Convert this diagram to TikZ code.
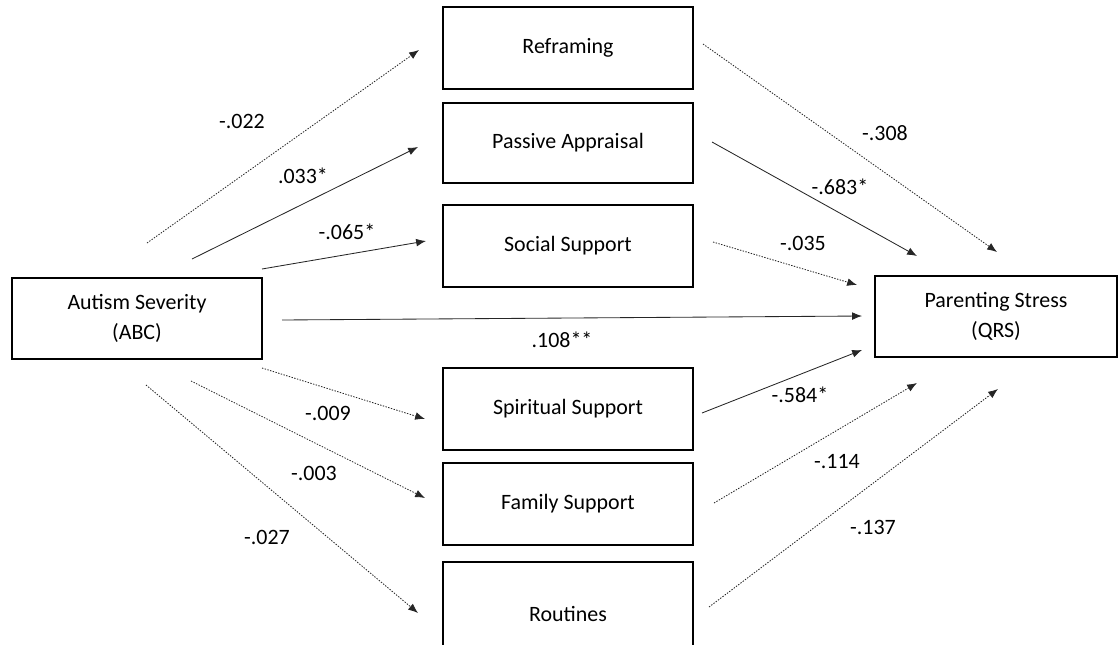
\documentclass[tikz,border=0pt]{standalone}
\usepackage{fontspec}
\setmainfont{Carlito}
\usetikzlibrary{arrows.meta,positioning}

\begin{document}
\begin{tikzpicture}[
    x=0.025cm, y=-0.025cm,
    var/.style={rectangle, draw, line width=0.9pt, minimum width=6.25cm, minimum height=2.05cm, align=center, font=\fontsize{15.6}{21.3}\selectfont},
    coef/.style={font=\fontsize{15.6}{19}\selectfont},
    sigpath/.style={-{Latex[length=7pt,width=5.5pt]}, line width=0.6pt, draw=black!85},
    nspath/.style={sigpath, dash pattern=on 1pt off 1pt}
]
\useasboundingbox (0,0) rectangle (1120,645);

% Predictor and outcome
\node[var, minimum height=2.02cm] (sev) at (137,318.5) {Autism Severity\\(ABC)};
\node[var, minimum width=6.05cm, minimum height=2.02cm] (stress) at (996,316.5) {Parenting Stress\\(QRS)};

% Coping mediators
\node[var] (refr) at (568,48) {Reframing};
\node[var, minimum height=2cm] (pass) at (568,143) {Passive Appraisal};
\node[var] (soc) at (568,246) {Social Support};
\node[var] (spir) at (568,409) {Spiritual Support};
\node[var] (fam) at (568,504) {Family Support};
\node[var, minimum height=2.6cm] (rout) at (568,614) {Routines};

% Path ends (a = from severity, b = to stress)
\coordinate (a1s) at (147,243); \coordinate (a1e) at (419,50);
\coordinate (a2s) at (192,259); \coordinate (a2e) at (418,147);
\coordinate (a3s) at (262,269); \coordinate (a3e) at (426,241);
\coordinate (a4s) at (262,368); \coordinate (a4e) at (425,419);
\coordinate (a5s) at (191,381); \coordinate (a5e) at (425,498);
\coordinate (a6s) at (146,385); \coordinate (a6e) at (418,613);
\coordinate (cs) at (282,320); \coordinate (ce) at (862,316);
\coordinate (b1s) at (703,44); \coordinate (b1e) at (997,252);
\coordinate (b2s) at (712,142); \coordinate (b2e) at (917,256);
\coordinate (b3s) at (713,242); \coordinate (b3e) at (857,285);
\coordinate (b4s) at (702,413); \coordinate (b4e) at (862,350);
\coordinate (b5s) at (714,503); \coordinate (b5e) at (917,383);
\coordinate (b6s) at (709,607); \coordinate (b6e) at (998,389);

% Severity -> coping
\draw[nspath] (a1s) -- (a1e);
\draw[sigpath] (a2s) -- (a2e);
\draw[sigpath] (a3s) -- (a3e);
\draw[nspath] (a4s) -- (a4e);
\draw[nspath] (a5s) -- (a5e);
\draw[nspath] (a6s) -- (a6e);

% Direct path
\draw[sigpath] (cs) -- (ce);

% Coping -> stress
\draw[nspath] (b1s) -- (b1e);
\draw[sigpath] (b2s) -- (b2e);
\draw[nspath] (b3s) -- (b3e);
\draw[sigpath] (b4s) -- (b4e);
\draw[nspath] (b5s) -- (b5e);
\draw[nspath] (b6s) -- (b6e);

% Coefficients
\node[coef] (ka1) at (242,121) {-.022};
\node[coef] (ka2) at (303,176) {.033*};
\node[coef] (ka3) at (347,232) {-.065*};
\node[coef] (ka4) at (328,413) {-.009};
\node[coef] (ka5) at (314,473) {-.003};
\node[coef] (ka6) at (267,537) {-.027};
\node[coef] (kc) at (562,340) {.108**};
\node[coef] (kb1) at (885,133) {-.308};
\node[coef] (kb2) at (840,187) {-.683*};
\node[coef] (kb3) at (803,243) {-.035};
\node[coef] (kb4) at (800,395) {-.584*};
\node[coef] (kb5) at (837,462) {-.114};
\node[coef] (kb6) at (873,527) {-.137};

\end{tikzpicture}
\end{document}
